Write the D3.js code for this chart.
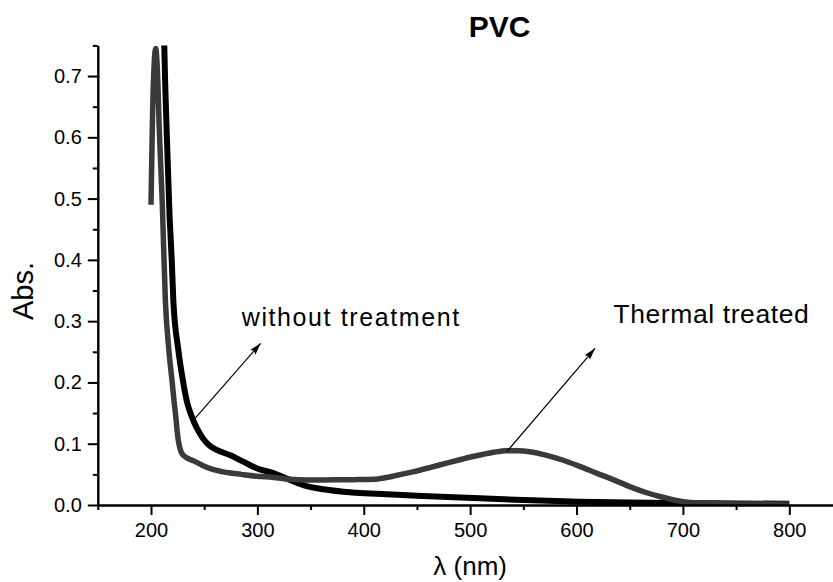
<!DOCTYPE html>
<html>
<head>
<meta charset="utf-8">
<script src="https://cdn.jsdelivr.net/npm/d3@7"></script>
<style>
  body { margin: 0; background: #fff; }
  text { font-family: "Liberation Sans", Arial, sans-serif; fill: #000; }
</style>
</head>
<body>
<div id="chart"></div>
<script>
// wavelength (nm) and absorbance
const thermalX = [200, 201.5, 203, 204.4, 206, 207.8, 210.5, 213.5, 216.8, 220, 221.6, 223.6, 224.8, 228.8, 233.5, 240, 248, 258, 268, 285, 299.5, 315, 330.6, 346, 361.7, 380, 395, 409, 420, 430, 446, 462, 477, 493, 509, 522, 534, 545, 556, 572, 587.5, 603, 618.8, 635, 650, 666, 681, 700, 720, 740, 770, 800]
const thermalY = [0.49, 0.64, 0.72, 0.745, 0.71, 0.612, 0.498, 0.334, 0.253, 0.199, 0.171, 0.139, 0.117, 0.085, 0.077, 0.072, 0.065, 0.058, 0.054, 0.05, 0.047, 0.045, 0.042, 0.041, 0.041, 0.0412, 0.0415, 0.042, 0.0445, 0.048, 0.054, 0.061, 0.068, 0.075, 0.0815, 0.086, 0.0886, 0.0885, 0.087, 0.081, 0.073, 0.063, 0.052, 0.041, 0.030, 0.020, 0.0126, 0.0054, 0.003, 0.002, 0.0015, 0.0012]

const plainX = [211.5, 212.5, 214.7, 217.5, 219.5, 221, 225.7, 230.4, 234, 237.5, 241, 245.5, 250, 255, 261.7, 274, 286.8, 299.3, 315, 330.6, 343.2, 362, 393, 421, 450, 509, 550, 603, 650, 700, 750, 800]
const plainY = [0.85, 0.75, 0.612, 0.47, 0.40, 0.334, 0.253, 0.199, 0.167, 0.148, 0.133, 0.118, 0.106, 0.097, 0.09, 0.0815, 0.0707, 0.060, 0.052, 0.041, 0.0326, 0.0256, 0.020, 0.0175, 0.015, 0.011, 0.008, 0.0054, 0.004, 0.003, 0.0025, 0.002]

const xMajor = [200, 300, 400, 500, 600, 700, 800]
const xMinor = [150, 250, 350, 450, 550, 650, 750]
const yMajor = [0, 0.1, 0.2, 0.3, 0.4, 0.5, 0.6, 0.7]
const yMinor = [0.05, 0.15, 0.25, 0.35, 0.45, 0.55, 0.65, 0.75]

// annotations: label position and arrow ends, in data units
const notes = [
  {label: 'without treatment', tx: 285.3, ty: 0.292, x1: 241.4, y1: 0.1415, x2: 303.1, y2: 0.2638, size: 25, spacing: 1.6},
  {label: 'Thermal treated', tx: 634.6, ty: 0.2965, x1: 534.4, y1: 0.087, x2: 617.4, y2: 0.2557, size: 26.5, spacing: 0.6}
]

const W = 833, H = 582

var x = d3.scaleLinear().domain([150, 850]).range([97.8, 842.5])
var y = d3.scaleLinear().domain([0, 0.75]).range([505, 45.4])

var svg = d3.select('#chart').append('svg')
  .attr('width', W).attr('height', H)
  .style('background', '#fff')

var defs = svg.append('defs')
defs.append('clipPath').attr('id', 'plot')
  .append('rect')
  .attr('x', x(150)).attr('y', y(0.75))
  .attr('width', x(850) - x(150)).attr('height', y(0) - y(0.75))

defs.append('marker')
  .attr('id', 'head')
  .attr('markerUnits', 'userSpaceOnUse')
  .attr('markerWidth', 13).attr('markerHeight', 8)
  .attr('refX', 12).attr('refY', 4)
  .attr('orient', 'auto')
  .append('path').attr('d', 'M0,0.5 L12,4 L0,7.5 L2,4 Z').attr('fill', '#000')

// curves
var line = d3.line()
  .x(d => x(d[0]))
  .y(d => y(d[1]))
  .curve(d3.curveMonotoneX)

var lines = svg.append('g').attr('clip-path', 'url(#plot)')

lines.append('path')
  .datum(d3.zip(plainX, plainY))
  .attr('d', line)
  .attr('fill', 'none')
  .attr('stroke', '#000')
  .attr('stroke-width', 6)
  .attr('stroke-linejoin', 'round')

lines.append('path')
  .datum(d3.zip(thermalX, thermalY))
  .attr('d', line)
  .attr('fill', 'none')
  .attr('stroke', '#3a3a3a')
  .attr('stroke-width', 5.5)
  .attr('stroke-linejoin', 'round')

// axes
function styleAxis(g){
  g.select('.domain').attr('stroke', '#000').attr('stroke-width', 2)
  g.selectAll('.tick line').attr('stroke', '#000').attr('stroke-width', 2)
  g.selectAll('.tick text').style('font-size', '20px')
    .style('font-family', '"Liberation Sans", Arial, sans-serif')
}

svg.append('g')
  .attr('transform', `translate(0, ${y(0)})`)
  .call(d3.axisBottom(x).tickValues(xMinor).tickSize(5).tickSizeOuter(0).tickFormat(''))
  .call(styleAxis)

svg.append('g')
  .attr('transform', `translate(0, ${y(0)})`)
  .call(d3.axisBottom(x).tickValues(xMajor).tickSize(10).tickSizeOuter(0).tickPadding(8).tickFormat(d3.format('d')))
  .call(styleAxis)

svg.append('g')
  .attr('transform', `translate(${x(150)}, 0)`)
  .call(d3.axisLeft(y).tickValues(yMinor).tickSize(5).tickSizeOuter(0).tickFormat(''))
  .call(styleAxis)

svg.append('g')
  .attr('transform', `translate(${x(150)}, 0)`)
  .call(d3.axisLeft(y).tickValues(yMajor).tickSize(10).tickSizeOuter(0).tickPadding(6).tickFormat(d3.format('.1f')))
  .call(styleAxis)

// titles
svg.append('text')
  .text('PVC')
  .attr('x', 499.5).attr('y', 37)
  .attr('text-anchor', 'middle')
  .style('font-size', '30px').style('font-weight', 'bold')

svg.append('text')
  .text('λ (nm)')
  .attr('x', x(500)).attr('y', 575)
  .attr('text-anchor', 'middle')
  .style('font-size', '26px')

svg.append('text')
  .text('Abs.')
  .attr('transform', 'translate(33, 291) rotate(-90)')
  .attr('text-anchor', 'middle')
  .style('font-size', '29px')

// annotations with arrows
var ann = svg.append('g')
ann.selectAll('line')
  .data(notes).enter()
  .append('line')
  .attr('x1', d => x(d.x1)).attr('y1', d => y(d.y1))
  .attr('x2', d => x(d.x2)).attr('y2', d => y(d.y2))
  .attr('stroke', '#000').attr('stroke-width', 1.2)
  .attr('marker-end', 'url(#head)')

ann.selectAll('text')
  .data(notes).enter()
  .append('text')
  .text(d => d.label)
  .attr('x', d => x(d.tx)).attr('y', d => y(d.ty))
  .style('font-size', d => d.size + 'px')
  .style('letter-spacing', d => d.spacing + 'px')
</script>
</body>
</html>
